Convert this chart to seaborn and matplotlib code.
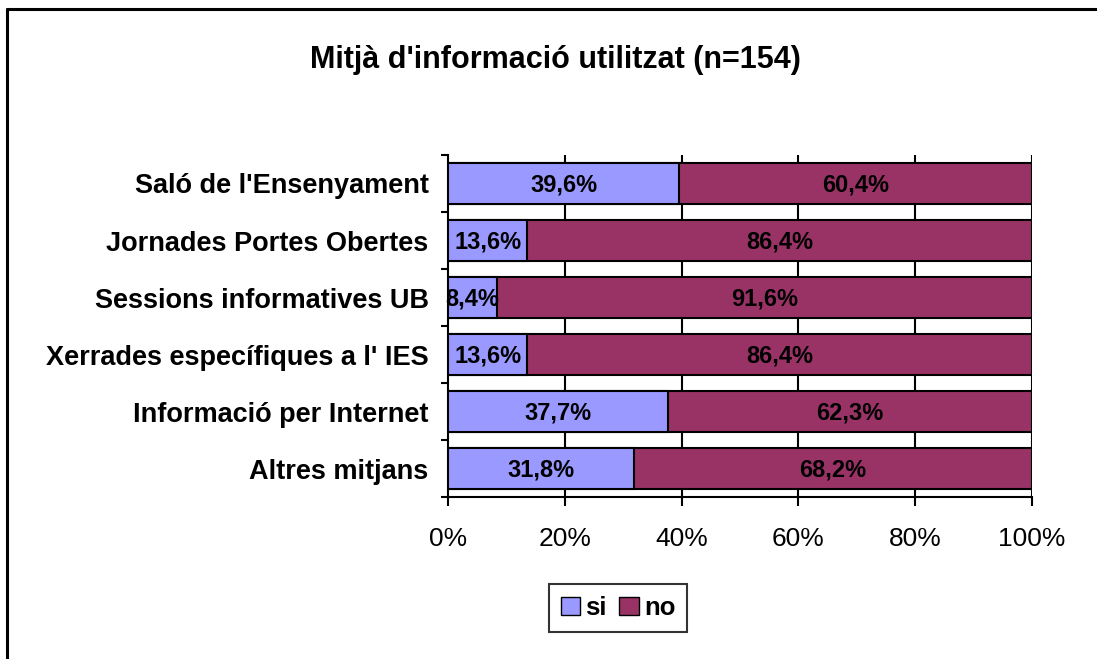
import matplotlib
matplotlib.use("Agg")
import matplotlib.pyplot as plt
from matplotlib.lines import Line2D
from matplotlib.patches import Patch
import pandas as pd
import seaborn as sns

categories = ["Saló de l'Ensenyament", "Jornades Portes Obertes",
              "Sessions informatives UB", "Xerrades específiques a l' IES",
              "Informació per Internet", "Altres mitjans"]
si_vals = [39.6, 13.6, 8.4, 13.6, 37.7, 31.8]
no_vals = [60.4, 86.4, 91.6, 86.4, 62.3, 68.2]
xticks = [0, 20, 40, 60, 80, 100]

col_si = "#9999FF"
col_no = "#993366"

df = pd.DataFrame({"cat": categories, "si": si_vals, "no": no_vals})
df["total"] = df["si"] + df["no"]

sns.set_style("white")
plt.rcParams["font.family"] = ["Liberation Sans", "DejaVu Sans"]
plt.rcParams["text.color"] = "black"
plt.rcParams["xtick.color"] = "black"
plt.rcParams["ytick.color"] = "black"

fig = plt.figure(figsize=(10.97, 6.59), dpi=100)
ax = fig.add_axes([0.4084, 0.2458, 0.5324, 0.519])

# stacked: full bar in "no" colour, then "si" part on top
sns.barplot(data=df, y="cat", x="total", color=col_no, orient="h", width=0.72,
            edgecolor="black", linewidth=1.5, saturation=1, ax=ax, zorder=3)
sns.barplot(data=df, y="cat", x="si", color=col_si, orient="h", width=0.72,
            edgecolor="black", linewidth=1.5, saturation=1, ax=ax, zorder=4)

for i, (s, n) in enumerate(zip(si_vals, no_vals)):
    ax.text(s / 2, i + 0.02, f"{s:.1f}%".replace(".", ","), ha="center", va="center",
            fontsize=17, fontweight="bold", zorder=5)
    ax.text(s + n / 2, i + 0.02, f"{n:.1f}%".replace(".", ","), ha="center", va="center",
            fontsize=17, fontweight="bold", zorder=5)

ax.set_xlim(0, 100)
ax.set_ylim(5.5, -0.5)
ax.set_xticks(xticks)
ax.set_xticklabels([f"{t}%" for t in xticks], fontsize=19)
ax.set_yticks(range(len(categories)))
ax.set_yticklabels(categories, fontsize=19.5, fontweight="bold")
ax.set_yticks([i - 0.5 for i in range(len(categories) + 1)], minor=True)
ax.tick_params(axis="y", which="major", length=0, pad=14)
ax.tick_params(axis="y", which="minor", length=5, width=1.5, color="black", left=True)
ax.tick_params(axis="x", which="major", length=6.5, width=1.5, color="black",
               bottom=True, pad=15)
ax.set_xlabel("")
ax.set_ylabel("")

for x in xticks[1:]:
    ax.axvline(x, color="black", lw=1.5, zorder=1)
for side in ["top", "right"]:
    ax.spines[side].set_visible(False)
for side in ["left", "bottom"]:
    ax.spines[side].set_visible(True)
    ax.spines[side].set_color("black")
    ax.spines[side].set_linewidth(1.5)

fig.text(0.506, 0.909, "Mitjà d'informació utilitzat (n=154)", ha="center", va="center",
         fontsize=22, fontweight="bold")

handles = [Patch(facecolor=col_si, edgecolor="black", label="si"),
           Patch(facecolor=col_no, edgecolor="black", label="no")]
leg = fig.legend(handles=handles, loc="center", bbox_to_anchor=(0.5634, 0.0774), ncol=2,
                 frameon=True, fancybox=False, handlelength=0.75, handleheight=0.75,
                 handletextpad=0.2, columnspacing=0.5, borderpad=0.45,
                 prop={"weight": "bold", "size": 18.5})
leg.get_frame().set_edgecolor("black")
leg.get_frame().set_linewidth(1.5)

# outer chart border (only top and left fall inside the image)
fig.add_artist(Line2D([0.0064, 1.0], [0.9863, 0.9863], color="black", lw=2.2,
                      transform=fig.transFigure))
fig.add_artist(Line2D([0.0064, 0.0064], [0.0, 0.9863], color="black", lw=2.2,
                      transform=fig.transFigure))

fig.savefig("out.png", dpi=100)
